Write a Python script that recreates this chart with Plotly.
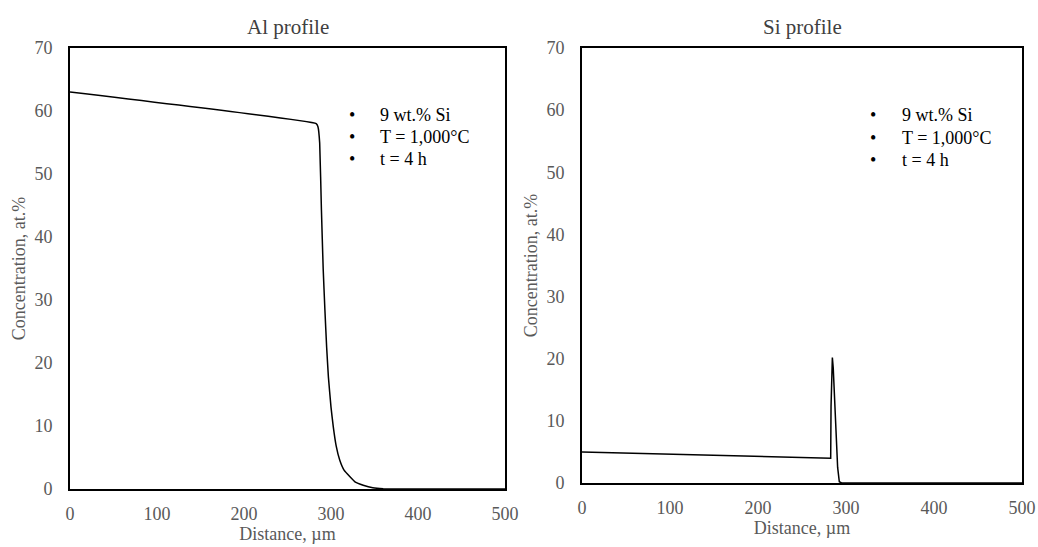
import plotly.graph_objects as go

al_x = [0, 283, 285, 287, 289, 291, 293, 295, 297, 300, 302.6, 306, 310, 315, 321.8, 328, 337, 348, 360, 380, 500]
al_y = [63, 58, 57.5, 54.9, 44.3, 35, 28.4, 22.5, 17.8, 13, 9.9, 6.8, 4.6, 3.0, 1.95, 1.1, 0.6, 0.2, 0.05, 0, 0]

si_x = [0, 282.6, 283, 283.6, 284.5, 285.5, 286.5, 287.5, 288.5, 289.4, 290.5, 292.4, 295, 500]
si_y = [5.0, 4.0, 12.3, 18.0, 20.2, 18.5, 15.5, 12.3, 8.5, 5.3, 2.5, 0.2, 0, 0]

legend_lines = ["9 wt.% Si", "T = 1,000\u00b0C", "t = 4 h"]
titles = ["Al profile", "Si profile"]
x_ticks = [0, 100, 200, 300, 400, 500]
y_ticks = [0, 10, 20, 30, 40, 50, 60, 70]

W, H = 1038, 547
FONT = "Liberation Serif"
GRAY = "#595959"

fig = go.Figure()
fig.add_trace(go.Scatter(x=al_x, y=al_y, mode="lines", line=dict(color="black", width=1.5, shape="spline", smoothing=0.3),
                         xaxis="x", yaxis="y", showlegend=False))
fig.add_trace(go.Scatter(x=si_x, y=si_y, mode="lines", line=dict(color="black", width=1.5),
                         xaxis="x2", yaxis="y2", showlegend=False))

def xa(dom, anchor):
    return dict(domain=dom, range=[0, 500], tickvals=x_ticks, showgrid=False, zeroline=False,
                showline=True, linecolor="black", linewidth=2, mirror=True, ticks="",
                automargin=False,
                tickfont=dict(family=FONT, size=18, color=GRAY), ticklabelstandoff=7,
                title=dict(text="Distance, \u00b5m", font=dict(family=FONT, size=18, color=GRAY), standoff=2),
                anchor=anchor)

def ya(dom, anchor):
    return dict(domain=dom, range=[0, 70], tickvals=y_ticks, showgrid=False, zeroline=False,
                showline=True, linecolor="black", linewidth=2, mirror=True, ticks="",
                automargin=False,
                tickfont=dict(family=FONT, size=18, color=GRAY), ticklabelstandoff=12,
                title=dict(text="Concentration, at.%", font=dict(family=FONT, size=18, color=GRAY), standoff=4),
                anchor=anchor)

fig.update_layout(
    template="none",
    width=W, height=H, margin=dict(l=0, r=0, t=0, b=0, autoexpand=False),
    paper_bgcolor="white", plot_bgcolor="white",
    xaxis=xa([70 / W, 505 / W], "y"),
    yaxis=ya([1 - 489 / H, 1 - 48 / H], "x"),
    xaxis2=xa([582 / W, 1022 / W], "y2"),
    yaxis2=ya([1 - 483 / H, 1 - 48 / H], "x2"),
)

annotations = []
for tx, txt in [(288, titles[0]), (802, titles[1])]:
    annotations.append(dict(text=txt, x=tx / W, y=1 - 27 / H, xref="paper", yref="paper",
                            showarrow=False, xanchor="center", yanchor="middle",
                            font=dict(family=FONT, size=21, color="#404040")))
for bx, tx, ys in [(352, 378, [115, 137, 159]), (873, 900, [115, 138, 160])]:
    for yy, txt in zip(ys, legend_lines):
        annotations.append(dict(text="\u2022", x=bx / W, y=1 - yy / H, xref="paper", yref="paper",
                                showarrow=False, xanchor="center", yanchor="middle",
                                font=dict(family=FONT, size=18, color="black")))
        annotations.append(dict(text=txt, x=tx / W, y=1 - yy / H, xref="paper", yref="paper",
                                showarrow=False, xanchor="left", yanchor="middle",
                                font=dict(family=FONT, size=18, color="black")))
fig.update_layout(annotations=annotations)

fig.write_html("out.html")
